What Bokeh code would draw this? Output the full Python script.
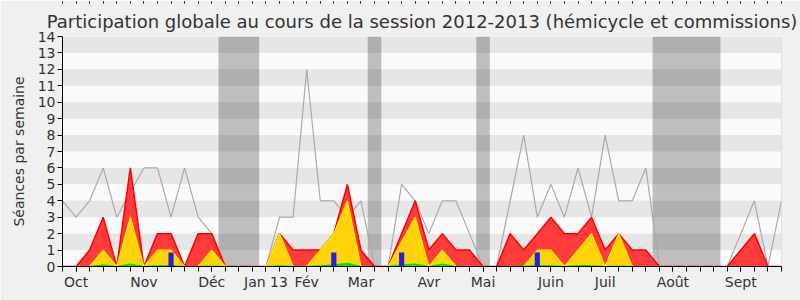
from bokeh.plotting import figure
from bokeh.models import FixedTicker, LinearAxis, Range1d, Title, Span
from bokeh.embed import file_html
from bokeh.resources import INLINE

# ---- data (weeks of the 2012-2013 session) ----
weeks = list(range(54))
seances = [4, 3, 4, 6, 3, 4.5, 6, 6, 3, 6, 3, 2, 0, 0, 0, 0, 3, 3, 12, 4,
           4, 3, 4, 0, 0, 5, 4, 2, 4, 4, 2, 0, 0, 4, 8, 3, 5, 3, 6, 3,
           8, 4, 4, 6, 0, 0, 0, 0, 0, 0, 2, 4, 0, 4]
total = [0, 0, 1, 3, 0, 6, 0, 2, 2, 0, 2, 2, 0, 0, 0, 0, 2, 1, 1, 1,
         2, 5, 1, 0, 0, 2, 4, 1, 2, 1, 1, 0, 0, 2, 1, 2, 3, 2, 2, 3,
         1, 2, 1, 1, 0, 0, 0, 0, 0, 0, 1, 2, 0, 0]
hemicycle = [0, 0, 0, 1, 0, 3, 0, 1, 1, 0, 0, 1, 0, 0, 0, 0, 2, 0, 0, 1,
             2, 4, 0, 0, 0, 1.5, 3, 0, 1, 0, 0, 0, 0, 0, 0, 1, 1, 0, 1, 2,
             0, 2, 0, 0, 0, 0, 0, 0, 0, 0, 0, 0, 0, 0]
interventions = [0, 0, 0, 0.1, 0, 0.15, 0, 0.05, 0.05, 0, 0, 0.03, 0, 0, 0, 0, 0.05, 0, 0, 0.05,
                 0.1, 0.2, 0, 0, 0, 0.1, 0.15, 0, 0.15, 0, 0, 0, 0, 0, 0.03, 0.05, 0.05, 0, 0.05, 0.05,
                 0, 0.03, 0, 0, 0, 0, 0, 0, 0, 0, 0, 0, 0, 0]
question_weeks = [8, 20, 25, 35]
question_values = [0.85, 0.85, 0.85, 0.85]
vacation_start = [12, 23, 31, 44]
vacation_end = [14, 23, 31, 48]
month_ticks = [1, 6, 11, 15, 18, 22, 27, 31, 36, 40, 45, 50]
month_labels = ["Oct", "Nov", "Déc", "Jan 13", "Fév", "Mar", "Avr", "Mai",
                "Juin", "Juil", "Août", "Sept"]
y_ticks = list(range(15))

FONT = "DejaVu Sans"
TXT = "#333333"

p = figure(width=800, height=300, output_backend="svg", toolbar_location=None,
           x_range=Range1d(0, 53), y_range=Range1d(0, 14),
           min_border_left=62, min_border_right=19, min_border_top=36, min_border_bottom=34)
p.title = None
p.add_layout(Title(text="Participation globale au cours de la session 2012-2013 (hémicycle et commissions)",
                   align="center", text_font=FONT, text_font_size="18px",
                   text_font_style="normal", text_color=TXT), "above")

p.background_fill_color = "#fafafa"
p.border_fill_color = "#f0f0f0"
p.outline_line_color = None
p.xgrid.visible = False
p.ygrid.visible = False

# alternating horizontal bands
band_bottoms = [t for t in y_ticks[:-1] if t % 2 == 1]
band_tops = [b + 1 for b in band_bottoms]
p.quad(left=0, right=53, bottom=band_bottoms, top=band_tops,
       fill_color="#e6e6e6", line_color=None)

# vacation shading
p.quad(left=[s - 0.5 for s in vacation_start], right=[e + 0.5 for e in vacation_end],
       bottom=0, top=14, fill_color="#000000", fill_alpha=0.24, line_color=None)

# total sessions line
p.line(weeks, seances, line_color="#aaaaaa", line_width=1.2)

# areas
p.varea(x=weeks, y1=0, y2=total, fill_color="#ff3b3b")
p.line(weeks, total, line_color="#ff0000", line_width=1.5)
p.varea(x=weeks, y1=0, y2=hemicycle, fill_color="#ffd20a")
p.line(weeks, hemicycle, line_color="#ffee00", line_width=1.2)
p.varea(x=weeks, y1=0, y2=interventions, fill_color="#00e600")
p.line(weeks, interventions, line_color="#00e000", line_width=1)
p.vbar(x=question_weeks, top=question_values, width=0.38,
       fill_color="#2222dd", line_color=None)

p.add_layout(Span(location=53, dimension="height", line_color="#c8c8c8", line_width=1))

# axes: weekly ticks as minor ticks, month labels on major ticks
xa = p.xaxis[0]
xa.ticker = FixedTicker(ticks=month_ticks, minor_ticks=weeks)
xa.major_label_overrides = {t: l for t, l in zip(month_ticks, month_labels)}
xa.major_label_text_font = FONT
xa.major_label_text_font_size = "14px"
xa.major_label_text_color = TXT
xa.major_tick_out = 5
xa.major_tick_in = 0
xa.minor_tick_out = 5
xa.minor_tick_in = 0
xa.minor_tick_line_color = "#000000"
xa.axis_line_color = "#000000"
xa.major_tick_line_color = "#000000"
xa.major_label_standoff = 2

top = LinearAxis(ticker=FixedTicker(ticks=[], minor_ticks=weeks),
                 axis_line_color=None, major_tick_line_color=None,
                 minor_tick_out=2, minor_tick_in=0,
                 minor_tick_line_color="#000000", major_label_standoff=0)
p.add_layout(top, "above")

ya = p.yaxis[0]
ya.ticker = FixedTicker(ticks=y_ticks)
ya.axis_label = "Séances par semaine"
ya.axis_label_text_font = FONT
ya.axis_label_text_font_size = "14px"
ya.axis_label_text_font_style = "normal"
ya.axis_label_text_color = TXT
ya.axis_label_standoff = 8
ya.major_label_text_font = FONT
ya.major_label_text_font_size = "14px"
ya.major_label_text_color = TXT
ya.major_tick_out = 5
ya.major_tick_in = 0
ya.minor_tick_line_color = None
ya.axis_line_color = "#000000"
ya.major_tick_line_color = "#000000"
ya.major_label_standoff = 2

open("out.html", "w").write(file_html(p, INLINE))
